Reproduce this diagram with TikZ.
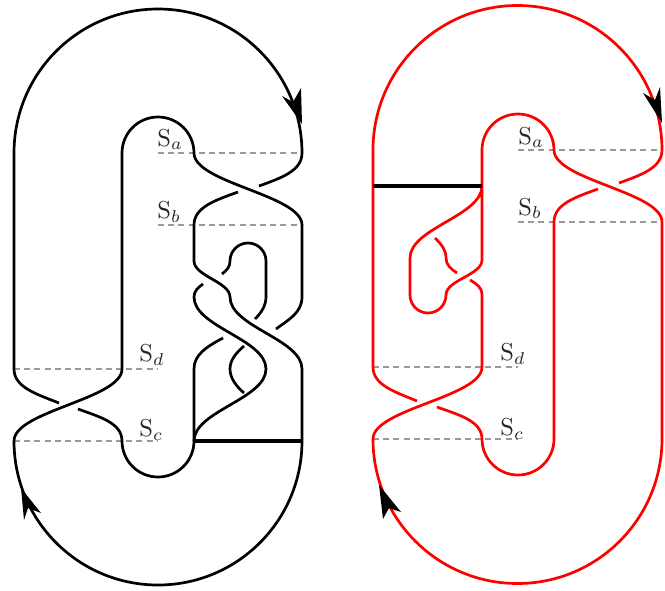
\documentclass[tikz,border=0pt]{standalone}
\begin{document}
\begin{tikzpicture}[x=1pt,y=-1pt,
  strand/.style={line width=2.7pt,line cap=butt,line join=round},
  bar/.style={draw=black,line width=3.8pt},
  guide/.style={draw=black!40,line width=1.4pt,dash pattern=on 6pt off 4.2pt},
  lab/.style={text=black!85,inner sep=0pt,scale=2.45,anchor=base west},
  tip/.style={fill=black,draw=none}]
\useasboundingbox (0,0) rectangle (665,590);
% ---- black diagram
\draw[guide] (158,153) -- (302,153);
\draw[guide] (158,225) -- (302,225);
\draw[guide] (14,369) -- (158,369);
\draw[guide] (14,441) -- (158,441);
\node[lab] (sa) at (157,146) {$\mathrm{S}_a$};
\node[lab] (sb) at (157,218.5) {$\mathrm{S}_b$};
\node[lab] (sd) at (139,361.5) {$\mathrm{S}_d$};
\node[lab] (sc) at (139,436.5) {$\mathrm{S}_c$};
\begin{scope}[strand,draw=black]
\draw (59,403) .. controls (36,394) and (14,387) .. (14,369) -- (14,153) arc[start angle=180,end angle=360,radius=144]
  .. controls (302,171) and (281,178) .. (259,186);
\draw (14,441) arc[start angle=180,end angle=0,radius=144] -- (302,369)
  .. controls (302,339) and (230,327) .. (230,297)
  .. controls (230,282) and (194,276) .. (194,261) -- (194,225)
  .. controls (194,207) and (216,200) .. (238,192);
\draw (14,441) .. controls (14,411) and (122,399) .. (122,369) -- (122,153)
  arc[start angle=180,end angle=360,radius=36]
  .. controls (194,183) and (302,195) .. (302,225) -- (302,297)
  .. controls (302,313) and (288,320) .. (276,329);
\draw (78,409) .. controls (100,417) and (122,423) .. (122,441) arc[start angle=180,end angle=0,radius=36] -- (194,441)
  .. controls (194,411) and (266,399) .. (266,369)
  .. controls (266,339) and (194,327) .. (194,297)
  .. controls (194,292) and (197,288) .. (203,284);
\draw (223,338) .. controls (206,347) and (194,355) .. (194,369) -- (194,441);
\draw (244,346) .. controls (236,353) and (230,360) .. (230,369) .. controls (230,378) and (236,386) .. (244,393);
\draw (222,274) .. controls (227,270) and (230,267) .. (230,261) arc[start angle=180,end angle=360,radius=18] -- (266,297)
  .. controls (266,306) and (261,313) .. (255,319);
\end{scope}
\draw[bar] (194,441) -- (302,441);
\fill[tip] (302,124) -- (282,96) -- (293,102) -- (301,88) -- cycle;
\fill[tip] (21,488) -- (24,520) -- (28,508) -- (41,513) -- cycle;
% ---- red diagram
\draw[guide] (518,150) -- (662,150);
\draw[guide] (518,222) -- (662,222);
\draw[guide] (373,367) -- (518,367);
\draw[guide] (373,439) -- (518,439);
\node[lab] (ra) at (518,144) {$\mathrm{S}_a$};
\node[lab] (rb) at (518,215) {$\mathrm{S}_b$};
\node[lab] (rd) at (500,360.5) {$\mathrm{S}_d$};
\node[lab] (rc) at (500,435.5) {$\mathrm{S}_c$};
\begin{scope}[strand,draw=red]
\draw (417,401) .. controls (395,392) and (373,385) .. (373,367) -- (373,150) arc[start angle=180,end angle=360,radius=144.5]
  .. controls (662,168) and (641,175) .. (619,183);
\draw (373,439) arc[start angle=180,end angle=0,radius=144.5] -- (662,222)
  .. controls (662,192) and (554,180) .. (554,150)
  arc[start angle=360,end angle=180,radius=36] -- (482,260)
  .. controls (482,275) and (446,280) .. (446,295)
  arc[start angle=0,end angle=180,radius=18] -- (410,258)
  .. controls (410,228) and (482,216) .. (482,186);
\draw (373,439) .. controls (373,409) and (482,397) .. (482,367) -- (482,294)
  .. controls (482,288) and (477,284) .. (470,280);
\draw (437,407) .. controls (459,415) and (482,421) .. (482,439) arc[start angle=180,end angle=0,radius=36] -- (554,222)
  .. controls (554,204) and (576,197) .. (598,189);
\draw (435,238) .. controls (442,245) and (446,250) .. (446,258) .. controls (446,265) and (451,269) .. (457,273);
\end{scope}
\draw[bar] (373,186) -- (482,186);
\fill[tip] (662,123) -- (643,93) -- (655,100) -- (660,87) -- cycle;
\fill[tip] (379,485) -- (383,519) -- (389,508) -- (401,512) -- cycle;
\end{tikzpicture}
\end{document}
